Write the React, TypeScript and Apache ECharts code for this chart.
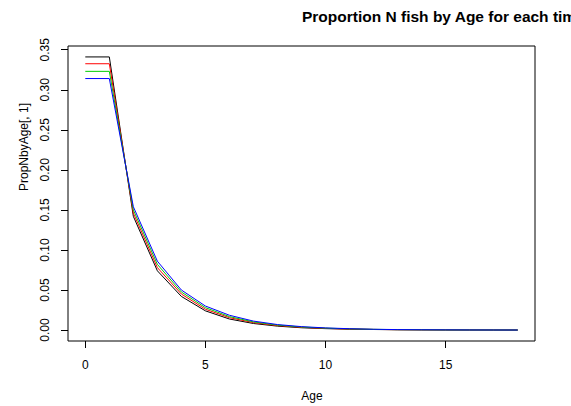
import React, { useEffect, useRef } from "react";
import * as echarts from "echarts";

// Age classes and the proportion of N fish in each age for four time steps
const ages: number[] = [0, 1, 2, 3, 4, 5, 6, 7, 8, 9, 10, 11, 12, 13, 14, 15, 16, 17, 18];
const propStep1: number[] = [0.341, 0.341, 0.142, 0.074, 0.042, 0.024, 0.0138, 0.0082, 0.0049, 0.0029, 0.0018, 0.0011, 0.0007, 0.0004, 0.00025, 0.00015, 0.0001, 0.00006, 0.00004];
const propStep2: number[] = [0.3325, 0.3325, 0.146, 0.078, 0.045, 0.026, 0.0155, 0.0093, 0.0056, 0.0034, 0.0021, 0.0013, 0.0008, 0.0005, 0.0003, 0.0002, 0.00012, 0.00007, 0.00004];
const propStep3: number[] = [0.323, 0.323, 0.15, 0.082, 0.0475, 0.028, 0.0168, 0.0102, 0.0062, 0.0038, 0.0024, 0.0015, 0.0009, 0.00055, 0.00035, 0.0002, 0.00013, 0.00008, 0.00005];
const propStep4: number[] = [0.314, 0.314, 0.154, 0.086, 0.05, 0.03, 0.0185, 0.0112, 0.0069, 0.0043, 0.0027, 0.0017, 0.001, 0.0006, 0.0004, 0.00025, 0.00015, 0.0001, 0.00006];

const xTicks: number[] = [0, 5, 10, 15];
const yTicks: number[] = [0, 0.05, 0.1, 0.15, 0.2, 0.25, 0.3, 0.35];

const seriesColors = ["#000000", "#FF0000", "#00CD00", "#0000FF"];
const FONT = "'Liberation Sans', Arial, Helvetica, sans-serif";

export default function App() {
  const ref = useRef<HTMLDivElement>(null);

  useEffect(() => {
    if (!ref.current) return;
    const chart = echarts.init(ref.current, undefined, { renderer: "svg" });

    const allSteps = [propStep1, propStep2, propStep3, propStep4];
    const maxVal = Math.max(...allSteps.map((s) => Math.max(...s)));
    // R-style 4% padding on both axes
    const xPad = (ages[ages.length - 1] - ages[0]) * 0.04;
    const yPad = maxVal * 0.04;

    chart.setOption({
      animation: false,
      backgroundColor: "#ffffff",
      grid: {
        left: 68,
        right: 36,
        top: 46,
        bottom: 65,
        show: true,
        borderColor: "#000000",
        borderWidth: 1,
        backgroundColor: "transparent",
      },
      xAxis: {
        type: "value",
        min: ages[0] - xPad,
        max: ages[ages.length - 1] + xPad,
        axisLine: { show: false, onZero: false },
        splitLine: { show: false },
        axisTick: {
          show: true,
          inside: false,
          length: 7,
          customValues: xTicks,
          lineStyle: { color: "#000000", width: 1 },
        },
        axisLabel: {
          customValues: xTicks,
          margin: 18,
          color: "#000000",
          fontFamily: FONT,
          fontSize: 12,
        },
      },
      yAxis: {
        type: "value",
        min: 0 - yPad,
        max: maxVal + yPad,
        axisLine: { show: false, onZero: false },
        splitLine: { show: false },
        axisTick: {
          show: true,
          inside: false,
          length: 7,
          customValues: yTicks,
          lineStyle: { color: "#000000", width: 1 },
        },
        axisLabel: {
          customValues: yTicks,
          rotate: 90,
          margin: 17,
          color: "#000000",
          fontFamily: FONT,
          fontSize: 12,
          formatter: (v: number) => v.toFixed(2),
        },
      },
      series: allSteps.map((vals, i) => ({
        type: "line",
        data: ages.map((a, j) => [a, vals[j]]),
        showSymbol: false,
        symbol: "none",
        lineStyle: { color: seriesColors[i], width: 1 },
        itemStyle: { color: seriesColors[i] },
        z: 2 + i,
      })),
      graphic: [
        {
          type: "text",
          left: 302,
          top: 8,
          style: {
            text: "Proportion N fish by Age for each time step",
            fontFamily: FONT,
            fontSize: 15.5,
            fontWeight: "bold",
            fill: "#000000",
          },
        },
        {
          type: "text",
          x: 312,
          y: 396,
          style: {
            text: "Age",
            fontFamily: FONT,
            fontSize: 12,
            fill: "#000000",
            align: "center",
            verticalAlign: "middle",
          },
        },
        {
          type: "text",
          x: 24,
          y: 147,
          rotation: Math.PI / 2,
          style: {
            text: "PropNbyAge[, 1]",
            fontFamily: FONT,
            fontSize: 12,
            fill: "#000000",
            align: "center",
            verticalAlign: "middle",
          },
        },
      ],
    });

    return () => chart.dispose();
  }, []);

  return (
    <div
      ref={ref}
      style={{ position: "absolute", left: 0, top: 0, width: 571, height: 406, background: "#ffffff" }}
    />
  );
}
